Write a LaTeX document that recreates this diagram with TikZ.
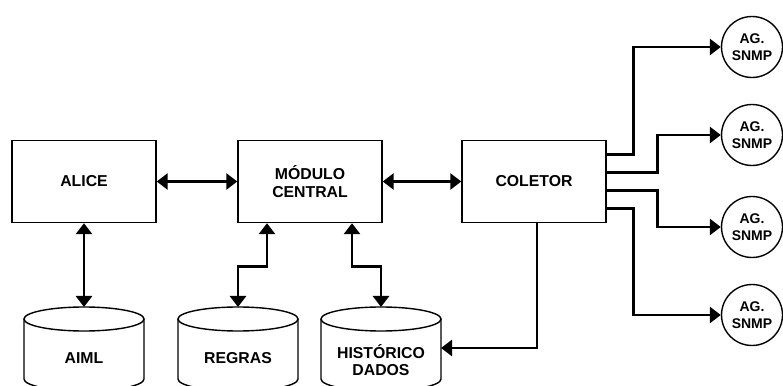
\documentclass[tikz,border=0pt]{standalone}
\usepackage{fontspec}
\setmainfont{Liberation Sans}
\usetikzlibrary{arrows.meta}
\begin{document}
\begin{tikzpicture}[x=1pt,y=1pt,
  >={Triangle[length=11pt,width=16pt]},
  bloco/.style={draw,line width=1.4pt,minimum width=144pt,minimum height=82pt,align=center,
    font=\bfseries\fontsize{15.8}{18}\selectfont},
  agente/.style={draw,circle,line width=1.4pt,minimum size=61pt,inner sep=0pt,align=center,
    font=\bfseries\fontsize{14}{16.5}\selectfont},
  banco/.style={align=center,font=\bfseries\fontsize{15.8}{17}\selectfont},
  fluxo/.style={line width=2.9pt}]
\useasboundingbox (0,0) rectangle (783,385);
\clip (0,0) rectangle (783,385);
% Blocos
\node[bloco] (alice) at (84,203.5) {ALICE};
\node[bloco] (central) at (310,203.5) {MÓDULO\\CENTRAL};
\node[bloco] (coletor) at (534,203.5) {COLETOR};
% Agentes
\node[agente] (ag1) at (752,338) {AG.\\SNMP};
\node[agente] (ag2) at (752,250) {AG.\\SNMP};
\node[agente] (ag3) at (752,158) {AG.\\SNMP};
\node[agente] (ag4) at (752,70) {AG.\\SNMP};
% Bancos de dados
\draw[line width=1.4pt] (84,66) ellipse [x radius=60, y radius=12];
\draw[line width=1.4pt] (24,66) -- (24,6) arc[start angle=180, end angle=360, x radius=60, y radius=12] -- (144,66);
\draw[line width=1.4pt] (238,66) ellipse [x radius=60, y radius=12];
\draw[line width=1.4pt] (178,66) -- (178,6) arc[start angle=180, end angle=360, x radius=60, y radius=12] -- (298,66);
\draw[line width=1.4pt] (381,66) ellipse [x radius=60, y radius=12];
\draw[line width=1.4pt] (321,66) -- (321,6) arc[start angle=180, end angle=360, x radius=60, y radius=12] -- (441,66);
\coordinate (aiml-topo) at (84,78);
\coordinate (regras-topo) at (238,78);
\coordinate (hist-topo) at (381,78);
\coordinate (hist-lado) at (441,37);
\node[banco] (aiml) at (84,27) {AIML};
\node[banco] (regras) at (238,27) {REGRAS};
\node[banco] (hist) at (381,25) {HISTÓRICO\\DADOS};
% Ligacoes
\draw[fluxo,<->] (alice) -- (central);
\draw[fluxo,<->] (central) -- (coletor);
\draw[fluxo,<->] (alice) -- (aiml-topo);
\draw[fluxo,<->] ([xshift=-43pt]central.south) -- ++(0,-43) -| (regras-topo);
\draw[fluxo,<->] ([xshift=42pt]central.south) -- ++(0,-43) -| (hist-topo);
\draw[fluxo,->] ([xshift=3pt]coletor.south) |- (hist-lado);
\draw[fluxo,->] ([yshift=27pt]coletor.east) -- ++(27,0) |- (ag1);
\draw[fluxo,->] ([yshift=9pt]coletor.east) -- ++(51,0) |- (ag2);
\draw[fluxo,->] ([yshift=-9pt]coletor.east) -- ++(51,0) |- (ag3);
\draw[fluxo,->] ([yshift=-27pt]coletor.east) -- ++(27,0) |- (ag4);
\end{tikzpicture}
\end{document}
